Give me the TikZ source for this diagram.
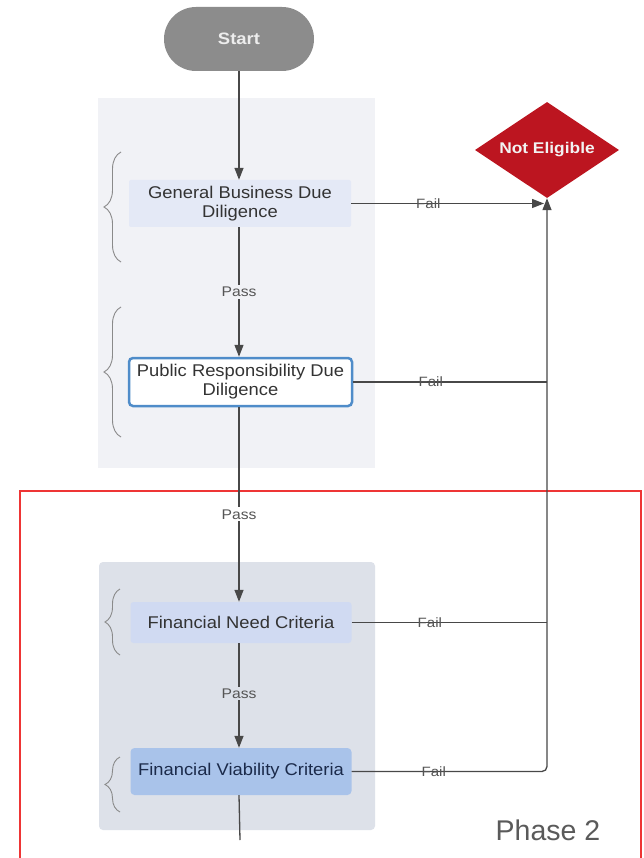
\documentclass[tikz,border=0pt]{standalone}
\usepackage{fontspec}
\setmainfont{Liberation Sans}
\newfontfamily\sfx[FakeStretch=1.12]{Liberation Sans}
\newfontfamily\sfbox[FakeStretch=1.08]{Liberation Sans}
\usetikzlibrary{arrows.meta,shapes.geometric,decorations.pathreplacing}
\definecolor{startgray}{HTML}{8C8C8C}
\definecolor{topbg}{HTML}{F1F2F6}
\definecolor{lowbg}{HTML}{DDE1E9}
\definecolor{gbddfill}{HTML}{E4E9F6}
\definecolor{prddline}{HTML}{4F8CC9}
\definecolor{fncfill}{HTML}{D0DAF2}
\definecolor{fvcfill}{HTML}{A9C3EA}
\definecolor{fvctext}{HTML}{1B2A4A}
\definecolor{nered}{HTML}{BC1520}
\definecolor{framered}{HTML}{EE3535}
\definecolor{linegray}{HTML}{484848}
\definecolor{txtgray}{HTML}{333333}
\definecolor{lblgray}{HTML}{555555}
\definecolor{bracegray}{HTML}{8A8A8A}
\definecolor{phasegray}{HTML}{5A5A5A}
\begin{document}
\begin{tikzpicture}[x=1pt,y=-1pt,
  boxtext/.style={font=\sfbox\fontsize{17}{19}\selectfont, text=txtgray, align=center, inner sep=0pt},
  stepbox/.style={boxtext, minimum width=222pt},
  conn/.style={draw=linegray, line width=1.3pt},
  arr/.style={conn, -{Triangle[length=12pt,width=9pt]}},
  passlbl/.style={font=\sfx\fontsize{14}{14}\selectfont, text=lblgray, inner sep=2pt},
  faillbl/.style={font=\sfx\fontsize{13.5}{14}\selectfont, text=lblgray, inner sep=0pt},
  bracestyle/.style={draw=bracegray, line width=0.9pt, decorate, decoration={brace, amplitude=17pt}}
]
\useasboundingbox (0,0) rectangle (644,858);
\fill[white] (0,0) rectangle (644,858);

% phase backgrounds
\fill[topbg] (98,98) rectangle (375,468);
\fill[lowbg, rounded corners=4pt] (99,562) rectangle (375,830);

% red frame
\draw[framered, line width=1.5pt] (20,491) rectangle (641,862);

% nodes
\node[fill=startgray, rounded corners=32pt, minimum width=150pt, minimum height=64pt,
      font=\sfx\bfseries\fontsize{16.5}{16}\selectfont, text=white!93!black, inner sep=0pt] (start) at (239,39) {Start};

\node[diamond, aspect=1.5, fill=nered, minimum width=144pt, minimum height=96pt, inner sep=0pt,
      font=\sfx\bfseries\fontsize{15.5}{16}\selectfont, text=white!95!black] (ne) at (547,150) {Not Eligible};

\node[stepbox, fill=gbddfill, minimum height=47pt, rounded corners=2pt] (gbdd) at (240,203.5) {General Business Due\\Diligence};
\node[stepbox, fill=white, draw=prddline, line width=2.5pt, minimum width=223pt, minimum height=48pt, rounded corners=4pt] (prdd) at (240.5,382) {Public Responsibility Due\\Diligence};
\node[stepbox, fill=fncfill, minimum width=221pt, minimum height=41pt, rounded corners=3pt] (fnc) at (241,622.5) {Financial Need Criteria};
\node[stepbox, fill=fvcfill, text=fvctext, minimum width=221pt, minimum height=47pt, rounded corners=4pt] (fvc) at (241,771.5) {Financial Viability Criteria};

\coordinate (tail) at (240,840);

% braces
\draw[bracestyle] (121,262) -- (121,152);
\draw[bracestyle] (121,437) -- (121,307);
\draw[bracestyle, decoration={amplitude=15pt}] (120,655) -- (120,589);
\draw[bracestyle, decoration={amplitude=15pt}] (120,812) -- (120,757);

% main flow
\draw[arr] (start.south) -- (start.south |- gbdd.north);
\draw[arr] (gbdd.south -| start.south) -- node[passlbl, fill=topbg] {Pass} (prdd.north -| start.south);
\draw[arr] (prdd.south -| start.south) -- node[pos=0.55, passlbl, fill=white] {Pass} (fnc.north -| start.south);
\draw[arr] (fnc.south -| start.south) -- node[pos=0.48, passlbl, fill=lowbg] {Pass} (fvc.north -| start.south);
\draw[conn] (fvc.south -| start.south) -- (tail);

% fail paths
\draw[arr] (gbdd.east) -- node[pos=0.4, faillbl] {Fail} ([xshift=-3pt]gbdd.east -| ne.south);
\draw[conn] (prdd.east) -- node[pos=0.4, faillbl] {Fail} (prdd.east -| ne.south);
\draw[conn] (fnc.east) -- node[pos=0.4, faillbl] {Fail} (fnc.east -| ne.south);
\draw[arr, rounded corners=5pt] (fvc.east) -| node[pos=0.21, faillbl] {Fail} (ne.south);

% phase label
\node[font=\fontsize{28.5}{30}\selectfont, text=phasegray, inner sep=0pt] (phase) at (548,830) {Phase 2};
\end{tikzpicture}
\end{document}
